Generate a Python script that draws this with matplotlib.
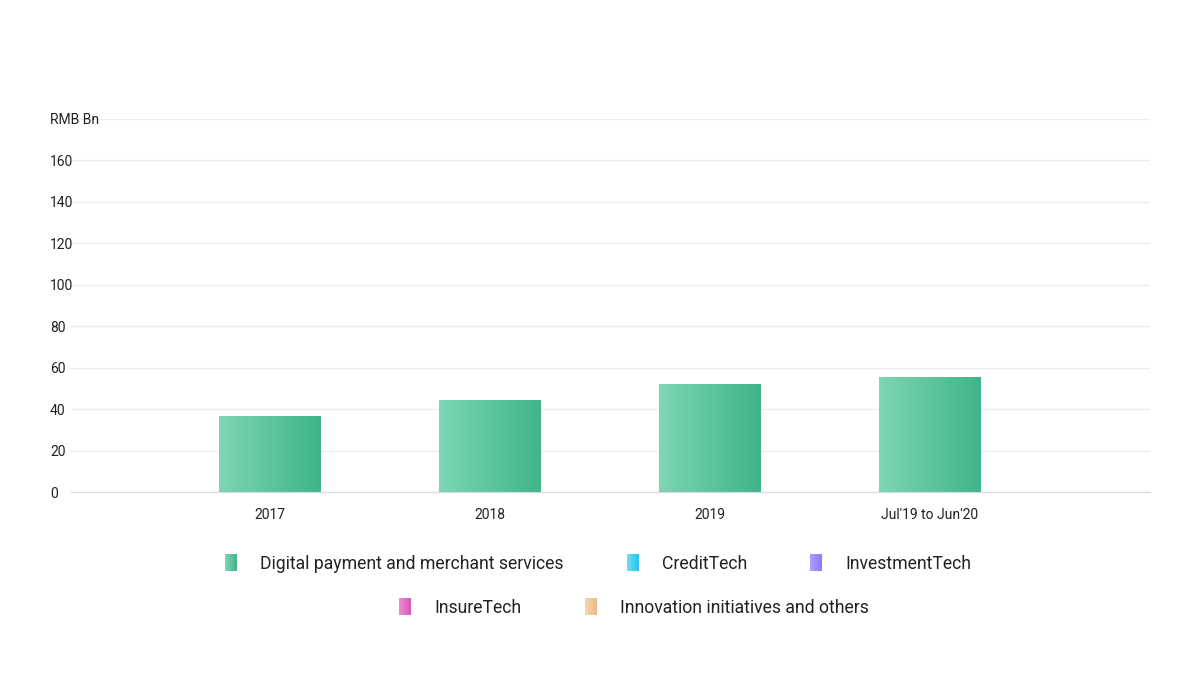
import numpy as np
import matplotlib
matplotlib.use("Agg")
import matplotlib.pyplot as plt
from matplotlib.colors import LinearSegmentedColormap
from matplotlib.legend_handler import HandlerBase
from matplotlib.patches import Rectangle

plt.rcParams['font.family'] = ['Roboto', 'DejaVu Sans']

# data
periods = ["2017", "2018", "2019", "Jul'19 to Jun'20"]
digital_payment = [36.2, 44.2, 51.9, 55.4]
credit_tech = [0, 0, 0, 0]
investment_tech = [0, 0, 0, 0]
insure_tech = [0, 0, 0, 0]
innovation = [0, 0, 0, 0]
y_ticks = [0, 20, 40, 60, 80, 100, 120, 140, 160, 180]
y_tick_labels = ["0", "20", "40", "60", "80", "100", "120", "140", "160", "RMB Bn"]

series = [
    ("Digital payment and merchant services", digital_payment, ("#7dd6b4", "#3fb589")),
    ("CreditTech", credit_tech, ("#6adff5", "#2bc1e8")),
    ("InvestmentTech", investment_tech, ("#a89dff", "#8b7bf7")),
    ("InsureTech", insure_tech, ("#ea8cd3", "#d856b4")),
    ("Innovation initiatives and others", innovation, ("#f6d4ab", "#e8bc8c")),
]

fig = plt.figure(figsize=(12, 6.75), dpi=100, facecolor="white")
ax = fig.add_axes([71 / 1200, 1 - 492.3 / 675, (1150 - 71) / 1200, (492.3 - 119) / 675])

x = np.arange(len(periods))
bottom = np.zeros(len(periods))
for name, vals, (c1, c2) in series:
    bars = ax.bar(x, vals, width=0.46, bottom=bottom, color="none", edgecolor="none", zorder=3)
    cmap = LinearSegmentedColormap.from_list(name, [c1, c2])
    grad = np.linspace(0, 1, 256).reshape(1, -1)
    for b in bars:
        if b.get_height() <= 0:
            continue
        ax.imshow(grad, cmap=cmap, aspect="auto", zorder=3,
                  extent=[b.get_x(), b.get_x() + b.get_width(), b.get_y(), b.get_y() + b.get_height()])
    bottom += np.array(vals)

ax.set_xlim(-0.905, 4.0)
ax.set_ylim(0, 180)
ax.set_yticks(y_ticks)
ax.set_yticklabels(y_tick_labels)
ax.set_xticks(x)
ax.set_xticklabels(periods)
ax.grid(axis="y", color="#ececec", linewidth=1, zorder=0)
for s in ["top", "right", "left"]:
    ax.spines[s].set_visible(False)
ax.spines["bottom"].set_color("#d9d9d9")
ax.spines["bottom"].set_zorder(4)
ax.tick_params(axis="both", length=0, labelsize=10, colors="#222222")
ax.tick_params(axis="y", pad=15.1)
ax.tick_params(axis="x", pad=11)
for lbl in ax.get_yticklabels():
    lbl.set_horizontalalignment("left")


class GradientHandler(HandlerBase):
    def create_artists(self, legend, orig_handle, xdescent, ydescent, width, height, fontsize, trans):
        c1, c2 = orig_handle.colors
        cmap = LinearSegmentedColormap.from_list("h", [c1, c2])
        n = 12
        arts = []
        for i in range(n):
            r = Rectangle((-xdescent + width * i / n, -ydescent - 2), width / n + 0.05, height + 4,
                          facecolor=cmap(i / (n - 1)), edgecolor="none", transform=trans)
            arts.append(r)
        return arts


class GradHandle:
    def __init__(self, colors):
        self.colors = colors


def make_legend(items, center_x, y):
    handles = [GradHandle(c) for _, _, c in items]
    labels = [n for n, _, _ in items]
    leg = fig.legend(handles, labels, loc="center", ncol=len(items),
                     bbox_to_anchor=(center_x / 1200, 1 - y / 675), frameon=False,
                     handler_map={GradHandle: GradientHandler()},
                     handlelength=0.68, handleheight=0.65, handletextpad=1.3,
                     columnspacing=3.6, prop={"size": 12.7})
    for t in leg.get_texts():
        t.set_color("#222222")
    return leg


make_legend(series[:3], 598, 564)
make_legend(series[3:], 634, 608)

fig.savefig("out.png", dpi=100, facecolor="white")
